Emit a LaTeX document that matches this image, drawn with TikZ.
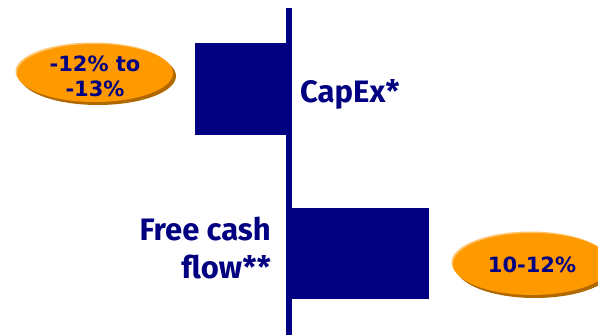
\documentclass[tikz,border=0pt]{standalone}
\usepackage{fontspec}
\setmainfont{Fira Sans}
\newfontfamily\pctfont{DejaVu Sans}
\definecolor{navy}{RGB}{0,0,128}
\definecolor{amber}{RGB}{255,153,0}
\definecolor{amberdark}{RGB}{176,104,0}
\definecolor{amberlight}{RGB}{255,196,110}
\tikzset{
  bar/.style={fill=navy, draw=none},
  lbl/.style={text=navy, font=\bfseries\fontsize{31}{38}\selectfont, inner sep=0pt},
  pct/.style={text=navy, font=\pctfont\bfseries\fontsize{21}{25}\selectfont, inner sep=0pt, align=center},
}
\newcommand\badge[4]{% name, center, rx, ry
  \fill[amberlight] ($(#2)+(-1.5,-1.5)$) ellipse ({#3} and {#4});
  \fill[amberdark] ($(#2)+(3,3)$) ellipse ({#3} and {#4});
  \fill[amber] (#2) ellipse ({#3} and {#4});
  \coordinate (#1) at (#2);
}
\usetikzlibrary{calc}
\begin{document}
\begin{tikzpicture}[x=1pt, y=-1pt]
\useasboundingbox (0,0) rectangle (598,335);

% bars
\fill[bar] (195,43) rectangle (292,135);
\fill[bar] (289,208) rectangle (429,299);
\draw[navy, line width=6pt] (289,8) -- (289,335);

% labels
\node[lbl, anchor=base west] (capex) at (300,102) {CapEx*};
\node[lbl, anchor=base east, align=right] (fcf) at (271,278) {Free cash\\flow**};

% ovals
\badge{capexoval}{95,73}{78}{29}
\node[pct, anchor=base] (capexpct) at (95,96) {-12\% to\\-13\%};
\badge{fcfoval}{532,264}{79}{31}
\node[pct, anchor=base] (fcfpct) at (532,272) {10-12\%};
\end{tikzpicture}
\end{document}
